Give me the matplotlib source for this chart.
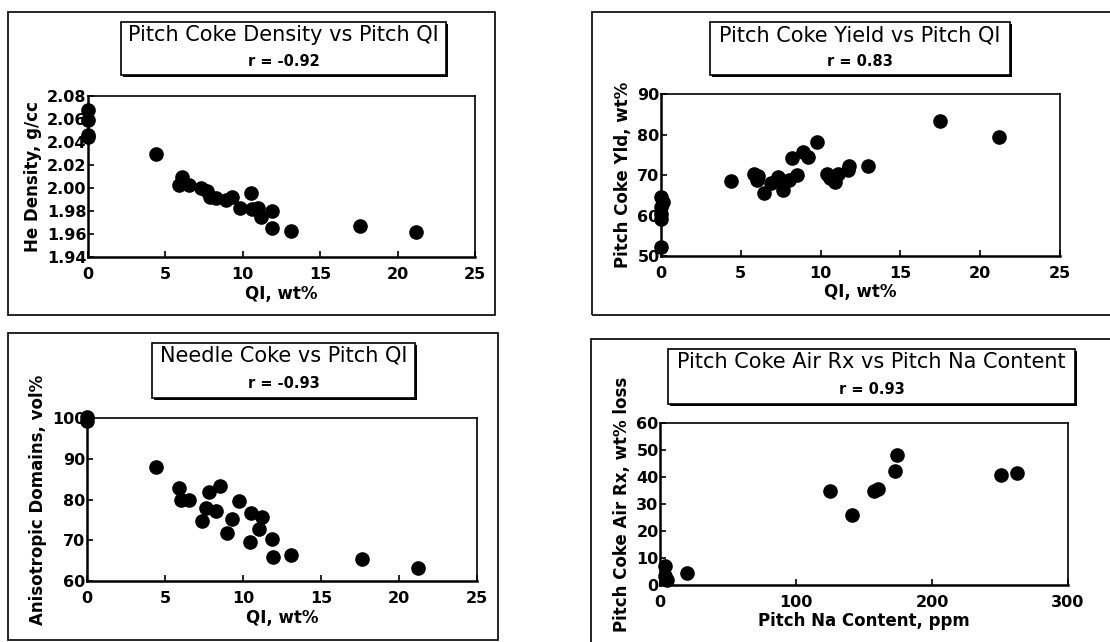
import matplotlib
matplotlib.use("Agg")
import matplotlib.pyplot as plt
from matplotlib.patches import Rectangle

plt.rcParams['font.family'] = ['DejaVu Sans']

# panel 1: He density vs QI
qi_dens = [0, 0, 0, 0, 4.4, 5.9, 6.1, 6.5, 7.3, 7.7, 7.9, 8.3, 8.9, 9.3, 9.8,
           10.5, 10.6, 11.0, 11.2, 11.9, 11.9, 13.1, 17.6, 21.2]
he_density = [2.068, 2.059, 2.046, 2.044, 2.030, 2.003, 2.010, 2.003, 2.000, 1.997,
              1.992, 1.991, 1.990, 1.992, 1.983, 1.996, 1.982, 1.983, 1.975, 1.980,
              1.965, 1.963, 1.967, 1.962]

# panel 2: coke yield vs QI
qi_yield = [0, 0.15, 0, 0, 0, 0, 4.4, 5.85, 6.1, 6.0, 6.45, 6.9, 7.3, 7.55, 7.65,
            8.0, 8.2, 8.55, 8.9, 9.2, 9.75, 10.4, 10.6, 10.9, 11.1, 11.7, 11.8,
            13.0, 17.5, 21.2]
coke_yield = [64.5, 63.3, 62.0, 60.4, 59.1, 52.1, 68.5, 70.2, 69.7, 68.7, 65.5, 68.0,
              69.5, 68.3, 66.3, 68.7, 74.3, 69.9, 75.7, 74.5, 78.2, 70.3, 69.3, 68.3,
              70.3, 71.2, 72.2, 72.2, 83.4, 79.5]

# panel 3: anisotropic domains vs QI
qi_aniso = [0, 0, 4.4, 5.9, 6.05, 6.55, 7.85, 8.5, 7.6, 8.25, 7.35, 9.3, 8.95, 9.75,
            10.5, 11.2, 11.0, 10.45, 11.85, 11.9, 13.1, 17.6, 21.2]
aniso = [100.2, 99.2, 88.0, 82.9, 80.0, 79.8, 81.8, 83.3, 78.0, 77.1, 74.7, 75.1,
         71.7, 79.6, 76.7, 75.7, 72.7, 69.6, 70.4, 66.0, 66.5, 65.3, 63.3]

# panel 4: air reactivity vs Na
na_ppm = [4, 4, 5, 19.6, 125, 141.5, 157.5, 160.4, 172.7, 174, 251, 262.8]
air_rx = [7.1, 3.5, 2.0, 4.3, 35.0, 26.0, 35.0, 35.6, 42.2, 48.0, 40.8, 41.4]

W, H = 1110, 642
fig = plt.figure(figsize=(W / 100, H / 100), dpi=100)


def px_box(x0, y0, x1, y1):
    return [x0 / W, 1 - y1 / H, (x1 - x0) / W, (y1 - y0) / H]


def frame(x0, y0, x1, y1, lw=1.2):
    l, b, w, h = px_box(x0, y0, x1, y1)
    fig.patches.append(Rectangle((l, b), w, h, transform=fig.transFigure,
                                 fill=False, lw=lw, ec='black'))


def title_box(x0, y0, x1, y1, line1, line2):
    # drop shadow then box
    l, b, w, h = px_box(x0 + 2, y0 + 2, x1 + 2, y1 + 2)
    fig.patches.append(Rectangle((l, b), w, h, transform=fig.transFigure,
                                 fc='black', ec='black', lw=0))
    l, b, w, h = px_box(x0, y0, x1, y1)
    fig.patches.append(Rectangle((l, b), w, h, transform=fig.transFigure,
                                 fc='white', ec='black', lw=1.2))
    cx = (x0 + x1) / 2 / W
    fig.text(cx, 1 - (y0 + 13) / H, line1, ha='center', va='center', fontsize=15)
    fig.text(cx, 1 - (y0 + 40) / H, line2, ha='center', va='center', fontsize=10.5,
             fontweight='bold')


def scatter_panel(box, x, y, xlim, ylim, xticks, yticks, xlabel, ylabel, yfmt):
    ax = fig.add_axes(px_box(*box))
    ax.plot(x, y, 'o', color='black', markersize=9.5, clip_on=False, zorder=5)
    ax.set_xlim(*xlim)
    ax.set_ylim(*ylim)
    ax.set_xticks(xticks)
    ax.set_yticks(yticks)
    ax.set_yticklabels([yfmt.format(v) for v in yticks])
    ax.tick_params(direction='in', length=4, width=1.2, labelsize=11.5)
    ax.tick_params(axis='x', pad=7)
    ax.tick_params(axis='y', pad=1)
    for lab in ax.get_xticklabels() + ax.get_yticklabels():
        lab.set_fontweight('bold')
    for s in ax.spines.values():
        s.set_linewidth(1.2)
    ax.spines['left'].set_linewidth(1.8)
    ax.spines['bottom'].set_linewidth(1.8)
    ax.set_xlabel(xlabel, fontsize=12, fontweight='bold', labelpad=2)
    ax.set_ylabel(ylabel, fontsize=12, fontweight='bold', labelpad=4)
    return ax


frame(8, 12, 495, 315)
frame(592, 12, 1116, 315)
frame(8, 333, 498, 640)
frame(591, 339, 1116, 646)

scatter_panel((88, 96, 475, 257), qi_dens, he_density, (0, 25), (1.94, 2.08),
              [0, 5, 10, 15, 20, 25], [1.94, 1.96, 1.98, 2.00, 2.02, 2.04, 2.06, 2.08],
              'QI, wt%', 'He Density, g/cc', '{:.2f}')
scatter_panel((661, 94, 1060, 256), qi_yield, coke_yield, (0, 25), (50, 90),
              [0, 5, 10, 15, 20, 25], [50, 60, 70, 80, 90],
              'QI, wt%', 'Pitch Coke Yld, wt%', '{:.0f}')
scatter_panel((87, 418, 477, 581), qi_aniso, aniso, (0, 25), (60, 100),
              [0, 5, 10, 15, 20, 25], [60, 70, 80, 90, 100],
              'QI, wt%', 'Anisotropic Domains, vol%', '{:.0f}')
scatter_panel((660, 423, 1068, 585), na_ppm, air_rx, (0, 300), (0, 60),
              [0, 100, 200, 300], [0, 10, 20, 30, 40, 50, 60],
              'Pitch Na Content, ppm', 'Pitch Coke Air Rx, wt% loss', '{:.0f}')

title_box(121, 22, 446, 75, 'Pitch Coke Density vs Pitch QI', 'r = -0.92')
title_box(710, 22, 1010, 75, 'Pitch Coke Yield vs Pitch QI', 'r = 0.83')
title_box(152, 343, 415, 398, 'Needle Coke vs Pitch QI', 'r = -0.93')
title_box(668, 349, 1075, 404, 'Pitch Coke Air Rx vs Pitch Na Content', 'r = 0.93')

fig.savefig('out.png', dpi=100)
